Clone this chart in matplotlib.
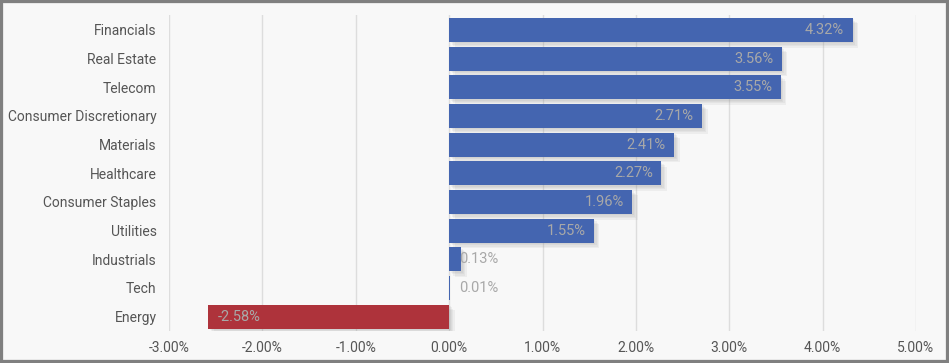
import numpy as np
import matplotlib.pyplot as plt
import matplotlib.patheffects as pe
from matplotlib.patches import Rectangle
from matplotlib.ticker import FuncFormatter

# --- Data ---
sectors = ["Financials", "Real Estate", "Telecom", "Consumer Discretionary", "Materials",
           "Healthcare", "Consumer Staples", "Utilities", "Industrials", "Tech", "Energy"]
returns = [4.32, 3.56, 3.55, 2.71, 2.41, 2.27, 1.96, 1.55, 0.13, 0.01, -2.58]
x_ticks = [-3, -2, -1, 0, 1, 2, 3, 4, 5]

BLUE = "#4465b0"
RED = "#ae333b"
BG = "#f8f8f8"
TEXT = "#555555"
LABEL = "#a8a8a8"

plt.rcParams['font.family'] = ['Roboto', 'DejaVu Sans']

fig = plt.figure(figsize=(9.49, 3.63), dpi=100, facecolor=BG)
ax = fig.add_axes([169 / 949, 32 / 363, 747 / 949, 316 / 363])
ax.set_facecolor(BG)

y = np.arange(len(sectors))
colors = [BLUE if v >= 0 else RED for v in returns]
bars = ax.barh(y, returns, height=0.84, color=colors, zorder=3, linewidth=0)
# soft drop shadow: a few faint offset copies
shadow = [pe.SimplePatchShadow(offset=(o, -o), shadow_rgbFace='#888888', alpha=0.09)
          for o in (1, 2, 3, 4)]
for b, v in zip(bars, returns):
    if abs(v) > 0.05:
        b.set_path_effects(shadow + [pe.Normal()])

# value labels
for yi, v in zip(y, returns):
    txt = f"{v:.2f}%"
    if abs(v) < 0.6:
        ax.annotate(txt, (0, yi), xytext=(7, 0), textcoords='offset points',
                    ha='left', va='center', color=LABEL, fontsize=10.5, zorder=4)
    elif v > 0:
        ax.annotate(txt, (v, yi), xytext=(-6, 0), textcoords='offset points',
                    ha='right', va='center', color=LABEL, fontsize=10.5, zorder=4)
    else:
        ax.annotate(txt, (v, yi), xytext=(7, 0), textcoords='offset points',
                    ha='left', va='center', color=LABEL, fontsize=10.5, zorder=4)

ax.set_xlim(-3, 5)
ax.set_ylim(10.5, -0.52)
ax.set_xticks(x_ticks)
ax.xaxis.set_major_formatter(FuncFormatter(lambda v, p: f"{v:.2f}%"))
ax.set_yticks(y)
ax.set_yticklabels(sectors)
ax.grid(axis='x', color='#dddddd', linewidth=1, zorder=0)
ax.set_axisbelow(True)
for s in ax.spines.values():
    s.set_visible(False)
ax.tick_params(axis='both', length=0, colors=TEXT, labelsize=10)
ax.tick_params(axis='x', pad=7)
ax.tick_params(axis='y', pad=9)
for t in ax.get_yticklabels():
    t.set_va('center_baseline')

# outer gray frame
fig.patches.append(Rectangle((0, 0), 1, 1, transform=fig.transFigure, fill=False,
                             edgecolor='#808080', linewidth=4.5, zorder=10))

fig.savefig("out.png", dpi=100, facecolor=BG)
